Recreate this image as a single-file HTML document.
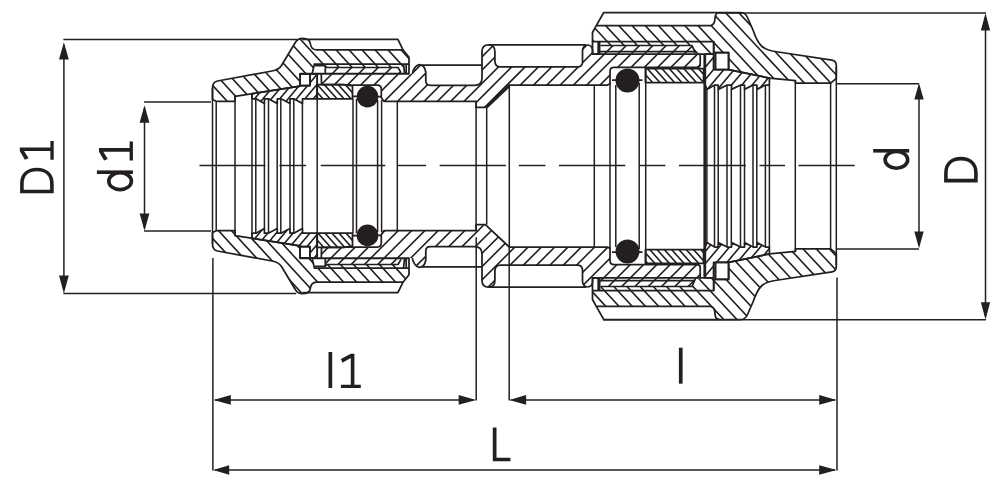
<!DOCTYPE html>
<html><head><meta charset="utf-8"><title>Coupling drawing</title>
<style>
html,body{margin:0;padding:0;background:#fff;}
body{width:1001px;height:487px;overflow:hidden;font-family:"Liberation Sans",sans-serif;}
svg{display:block;}
</style></head><body>
<svg width="1001" height="487" viewBox="0 0 1001 487">
<defs>
<clipPath id="c_nutL"><path d="M212.5 99.5 V88 Q212.5 82 217.5 81 L272 71 Q278.5 70 281.5 65.5 L295.6 42 Q298 38.4 302.5 38.3 Q309.3 38.4 310.2 43 Q311 49.8 316.5 49.8 H403 L409 57.2 V64 H403.5 V67.5 H326 V64 H314.4 L312.1 73.9 H300 V86.2 L235 96.3 V101.3 H216.2 Z"/></clipPath>
<clipPath id="cm_nutL"><path d="M212.5 99.5 V88 Q212.5 82 217.5 81 L272 71 Q278.5 70 281.5 65.5 L295.6 42 Q298 38.4 302.5 38.3 Q309.3 38.4 310.2 43 Q311 49.8 316.5 49.8 H403 L409 57.2 V64 H403.5 V67.5 H326 V64 H314.4 L312.1 73.9 H300 V86.2 L235 96.3 V101.3 H216.2 Z" transform="matrix(1 0 0 -1 0 332.0)"/></clipPath>
<clipPath id="c_clL"><path d="M252 98.8 V93.7 L300 86.2 V85.5 H310 V73.9 H317.2 V98.8 H302.5 V103.5 L293.8 98.8 H290 V103.5 L281 98.8 H277.3 V103.5 L268.3 98.8 H264.4 V103.5 L256 98.8 Z"/></clipPath>
<clipPath id="cm_clL"><path d="M252 98.8 V93.7 L300 86.2 V85.5 H310 V73.9 H317.2 V98.8 H302.5 V103.5 L293.8 98.8 H290 V103.5 L281 98.8 H277.3 V103.5 L268.3 98.8 H264.4 V103.5 L256 98.8 Z" transform="matrix(1 0 0 -1 0 332.0)"/></clipPath>
<clipPath id="c_buL"><path d="M317.2 84.6 H343 L352.5 86 V98.8 H317.2 Z"/></clipPath>
<clipPath id="cm_buL"><path d="M317.2 84.6 H343 L352.5 86 V98.8 H317.2 Z" transform="matrix(1 0 0 -1 0 332.0)"/></clipPath>
<clipPath id="c_body"><path d="M321.5 84.6 L321.3 73.9 H325.5 V67.5 H398 L401 72.6 V73.9 H412.3 Q414 66 419.2 64.7 Q424.5 64.7 425.8 72 V81 Q425.8 85.3 430.5 85.3 H474.5 Q482 85.3 482 78 V51.5 Q482 44.8 488.5 44.8 Q494.9 44.8 494.9 51.5 V61 Q494.9 66.9 500.5 66.9 H578 Q582.5 66.5 582.5 62 V50.5 Q583 45.2 587.5 45 Q592.3 45.2 592.6 50.5 V54.2 H600.5 V45.5 H692 L695.3 53.2 H700.2 V64.5 Q700.2 67.3 697 67.3 H645.6 H614 Q610 67.3 610 71.5 V83.5 L607.5 85 H509.3 L485.3 107.3 H476.1 V101.3 H383.8 L381.3 97.5 V89 Q381.3 85 377.3 85 H352.5 L343 84.6 Z"/></clipPath>
<clipPath id="cm_body"><path d="M321.5 84.6 L321.3 73.9 H325.5 V67.5 H398 L401 72.6 V73.9 H412.3 Q414 66 419.2 64.7 Q424.5 64.7 425.8 72 V81 Q425.8 85.3 430.5 85.3 H474.5 Q482 85.3 482 78 V51.5 Q482 44.8 488.5 44.8 Q494.9 44.8 494.9 51.5 V61 Q494.9 66.9 500.5 66.9 H578 Q582.5 66.5 582.5 62 V50.5 Q583 45.2 587.5 45 Q592.3 45.2 592.6 50.5 V54.2 H600.5 V45.5 H692 L695.3 53.2 H700.2 V64.5 Q700.2 67.3 697 67.3 H645.6 H614 Q610 67.3 610 71.5 V83.5 L607.5 85 H509.3 L485.3 107.3 H476.1 V101.3 H383.8 L381.3 97.5 V89 Q381.3 85 377.3 85 H352.5 L343 84.6 Z" transform="matrix(1 0 0 -1 0 332.0)"/></clipPath>
<clipPath id="c_buR"><path d="M645.6 68.6 H703.6 V82.5 H645.6 Z"/></clipPath>
<clipPath id="cm_buR"><path d="M645.6 68.6 H703.6 V82.5 H645.6 Z" transform="matrix(1 0 0 -1 0 332.0)"/></clipPath>
<clipPath id="c_clR"><path d="M705.3 54.2 H713.7 V69.6 H728.6 L769.4 78.1 V85.0 H765.6 L756.9 89.4 V85.0 H753.1 L744.5 89.4 V85.0 H740.6 L731.5 89.4 V85.0 H727.2 L718.2 89.4 V85.0 H714.6 L706.9 89.4 L705.3 85.0 Z"/></clipPath>
<clipPath id="cm_clR"><path d="M705.3 54.2 H713.7 V69.6 H728.6 L769.4 78.1 V85.0 H765.6 L756.9 89.4 V85.0 H753.1 L744.5 89.4 V85.0 H740.6 L731.5 89.4 V85.0 H727.2 L718.2 89.4 V85.0 H714.6 L706.9 89.4 L705.3 85.0 Z" transform="matrix(1 0 0 -1 0 332.0)"/></clipPath>
<clipPath id="c_nutR"><path d="M592.5 41.5 V32.5 L596.3 25.6 H710.6 Q715 24.5 715 18 Q715.3 12.6 719.5 12.5 H741 Q745.5 12.6 747.5 17.5 L753 30 Q757 42 762 46.5 Q767 50.5 775 51.5 L832 60.2 Q836.3 60.9 836.3 65.8 V78.3 L830.7 83.1 H795.5 V80.6 L769.4 78.1 L728.6 69.6 V52.6 H713.7 V53.2 H695.3 L692 45.5 H600.5 V41.5 Z"/></clipPath>
<clipPath id="cm_nutR"><path d="M592.5 41.5 V32.5 L596.3 25.6 H710.6 Q715 24.5 715 18 Q715.3 12.6 719.5 12.5 H741 Q745.5 12.6 747.5 17.5 L753 30 Q757 42 762 46.5 Q767 50.5 775 51.5 L832 60.2 Q836.3 60.9 836.3 65.8 V78.3 L830.7 83.1 H795.5 V80.6 L769.4 78.1 L728.6 69.6 V52.6 H713.7 V53.2 H695.3 L692 45.5 H600.5 V41.5 Z" transform="matrix(1 0 0 -1 0 332.0)"/></clipPath>

<g id="gD"><path d="M1.8 -1.8V-31.8H9.5C19.5 -31.8 23.8 -25 23.8 -16.8C23.8 -8.6 19.5 -1.8 9.5 -1.8Z" fill="none" stroke="#231f20" stroke-width="3.6" stroke-linejoin="miter"/></g>
<g id="g1"><path d="M0 0H19.9V-3.3H13.5V-34.2H9.9L0 -29L1.5 -25.3L9.9 -30V-3.3H0Z" fill="#231f20"/></g>
<g id="g1r"><path d="M0 0H18.8V-3.3H12.3V-33.9H8.7L0 -28.8L1.5 -25.1L8.7 -29.6V-3.3H0Z" fill="#231f20"/></g>
<g id="gd"><rect x="17.4" y="-36" width="3.6" height="36" fill="#231f20"/><ellipse cx="10.2" cy="-12.8" rx="8.4" ry="11.3" fill="none" stroke="#231f20" stroke-width="3.6"/></g>
<g id="gl"><rect x="0" y="-36" width="3.7" height="36" fill="#231f20"/></g>
<g id="gL"><path d="M1.85 -33.7V-1.8H17.6" fill="none" stroke="#231f20" stroke-width="3.7" stroke-linejoin="miter"/></g>

</defs>
<rect width="1001" height="487" fill="#fff"/>
<g id="drawing">
<g clip-path="url(#c_nutL)"><path d="M70.87 30.00L144.18 110.00M83.87 30.00L157.18 110.00M96.87 30.00L170.18 110.00M109.87 30.00L183.18 110.00M122.87 30.00L196.18 110.00M135.87 30.00L209.18 110.00M148.87 30.00L222.18 110.00M161.87 30.00L235.18 110.00M174.87 30.00L248.18 110.00M187.87 30.00L261.18 110.00M200.87 30.00L274.18 110.00M213.87 30.00L287.18 110.00M226.87 30.00L300.18 110.00M239.87 30.00L313.18 110.00M252.87 30.00L326.18 110.00M265.87 30.00L339.18 110.00M278.87 30.00L352.18 110.00M291.87 30.00L365.18 110.00M304.87 30.00L378.18 110.00M317.87 30.00L391.18 110.00M330.87 30.00L404.18 110.00M343.87 30.00L417.18 110.00M356.87 30.00L430.18 110.00M369.87 30.00L443.18 110.00M382.87 30.00L456.18 110.00M395.87 30.00L469.18 110.00M408.87 30.00L482.18 110.00M421.87 30.00L495.18 110.00M434.87 30.00L508.18 110.00M447.87 30.00L521.18 110.00M460.87 30.00L534.18 110.00M473.87 30.00L547.18 110.00" stroke="#231f20" stroke-width="1.6" fill="none"/></g>
<g clip-path="url(#cm_nutL)"><path d="M67.56 222.00L140.87 302.00M80.56 222.00L153.87 302.00M93.56 222.00L166.87 302.00M106.56 222.00L179.87 302.00M119.56 222.00L192.87 302.00M132.56 222.00L205.87 302.00M145.56 222.00L218.87 302.00M158.56 222.00L231.87 302.00M171.56 222.00L244.87 302.00M184.56 222.00L257.87 302.00M197.56 222.00L270.87 302.00M210.56 222.00L283.87 302.00M223.56 222.00L296.87 302.00M236.56 222.00L309.87 302.00M249.56 222.00L322.87 302.00M262.56 222.00L335.87 302.00M275.56 222.00L348.87 302.00M288.56 222.00L361.87 302.00M301.56 222.00L374.87 302.00M314.56 222.00L387.87 302.00M327.56 222.00L400.87 302.00M340.56 222.00L413.87 302.00M353.56 222.00L426.87 302.00M366.56 222.00L439.87 302.00M379.56 222.00L452.87 302.00M392.56 222.00L465.87 302.00M405.56 222.00L478.87 302.00M418.56 222.00L491.87 302.00M431.56 222.00L504.87 302.00M444.56 222.00L517.87 302.00M457.56 222.00L530.87 302.00M470.56 222.00L543.87 302.00" stroke="#231f20" stroke-width="1.6" fill="none"/></g>
<path d="M212.5 99.5 V88 Q212.5 82 217.5 81 L272 71 Q278.5 70 281.5 65.5 L295.6 42 Q298 38.4 302.5 38.3 Q309.3 38.4 310.2 43 Q311 49.8 316.5 49.8 H403 L409 57.2 V64 H314.4 L312.1 73.9 H300 V86.2 L235 96.3 V101.3 H216.2 Z" fill="none" stroke="#231f20" stroke-width="1.75" stroke-linejoin="round" />
<path d="M212.5 99.5 V88 Q212.5 82 217.5 81 L272 71 Q278.5 70 281.5 65.5 L295.6 42 Q298 38.4 302.5 38.3 Q309.3 38.4 310.2 43 Q311 49.8 316.5 49.8 H403 L409 57.2 V64 H314.4 L312.1 73.9 H300 V86.2 L235 96.3 V101.3 H216.2 Z" fill="none" stroke="#231f20" stroke-width="1.75" stroke-linejoin="round" transform="matrix(1 0 0 -1 0 332.0)" />
<path d="M302.5 39.3 H397.9 L403 49.8" fill="none" stroke="#231f20" stroke-width="1.75" stroke-linejoin="round" />
<path d="M302.5 39.3 H397.9 L403 49.8" fill="none" stroke="#231f20" stroke-width="1.75" stroke-linejoin="round" transform="matrix(1 0 0 -1 0 332.0)" />
<path d="M403.5 64 L404.6 73.6 M406.2 64 V73.6 M409 64 V74.2" fill="none" stroke="#231f20" stroke-width="1.75" stroke-linejoin="round" />
<path d="M403.5 64 L404.6 73.6 M406.2 64 V73.6 M409 64 V74.2" fill="none" stroke="#231f20" stroke-width="1.75" stroke-linejoin="round" transform="matrix(1 0 0 -1 0 332.0)" />
<path d="M300 73.9 H310 V85.5 H300 Z" fill="none" stroke="#231f20" stroke-width="1.75" stroke-linejoin="round" />
<path d="M300 73.9 H310 V85.5 H300 Z" fill="none" stroke="#231f20" stroke-width="1.75" stroke-linejoin="round" transform="matrix(1 0 0 -1 0 332.0)" />
<g clip-path="url(#c_clL)"><path d="M207.31 65.00L168.71 111.00M215.71 65.00L177.11 111.00M224.11 65.00L185.51 111.00M232.51 65.00L193.91 111.00M240.91 65.00L202.31 111.00M249.31 65.00L210.71 111.00M257.71 65.00L219.11 111.00M266.11 65.00L227.51 111.00M274.51 65.00L235.91 111.00M282.91 65.00L244.31 111.00M291.31 65.00L252.71 111.00M299.71 65.00L261.11 111.00M308.11 65.00L269.51 111.00M316.51 65.00L277.91 111.00M324.91 65.00L286.31 111.00M333.31 65.00L294.71 111.00M341.71 65.00L303.11 111.00M350.11 65.00L311.51 111.00M358.51 65.00L319.91 111.00M366.91 65.00L328.31 111.00M375.31 65.00L336.71 111.00M383.71 65.00L345.11 111.00M392.11 65.00L353.51 111.00M400.51 65.00L361.91 111.00" stroke="#231f20" stroke-width="1.6" fill="none"/></g>
<g clip-path="url(#cm_clL)"><path d="M210.81 221.00L172.21 267.00M219.21 221.00L180.61 267.00M227.61 221.00L189.01 267.00M236.01 221.00L197.41 267.00M244.41 221.00L205.81 267.00M252.81 221.00L214.21 267.00M261.21 221.00L222.61 267.00M269.61 221.00L231.01 267.00M278.01 221.00L239.41 267.00M286.41 221.00L247.81 267.00M294.81 221.00L256.21 267.00M303.21 221.00L264.61 267.00M311.61 221.00L273.01 267.00M320.01 221.00L281.41 267.00M328.41 221.00L289.81 267.00M336.81 221.00L298.21 267.00M345.21 221.00L306.61 267.00M353.61 221.00L315.01 267.00M362.01 221.00L323.41 267.00M370.41 221.00L331.81 267.00M378.81 221.00L340.21 267.00M387.21 221.00L348.61 267.00M395.61 221.00L357.01 267.00" stroke="#231f20" stroke-width="1.6" fill="none"/></g>
<path d="M252 98.8 V93.7 L300 86.2 V85.5 H310 V73.9 H317.2 V98.8 H302.5 V103.5 L293.8 98.8 H290 V103.5 L281 98.8 H277.3 V103.5 L268.3 98.8 H264.4 V103.5 L256 98.8 Z" fill="none" stroke="#231f20" stroke-width="1.75" stroke-linejoin="round" />
<path d="M252 98.8 V93.7 L300 86.2 V85.5 H310 V73.9 H317.2 V98.8 H302.5 V103.5 L293.8 98.8 H290 V103.5 L281 98.8 H277.3 V103.5 L268.3 98.8 H264.4 V103.5 L256 98.8 Z" fill="none" stroke="#231f20" stroke-width="1.75" stroke-linejoin="round" transform="matrix(1 0 0 -1 0 332.0)" />
<g clip-path="url(#c_buL)"><path d="M261.36 77.00L287.47 106.00M268.36 77.00L294.47 106.00M275.36 77.00L301.47 106.00M282.36 77.00L308.47 106.00M289.36 77.00L315.47 106.00M296.36 77.00L322.47 106.00M303.36 77.00L329.47 106.00M310.36 77.00L336.47 106.00M317.36 77.00L343.47 106.00M324.36 77.00L350.47 106.00M331.36 77.00L357.47 106.00M338.36 77.00L364.47 106.00M345.36 77.00L371.47 106.00M352.36 77.00L378.47 106.00M359.36 77.00L385.47 106.00M366.36 77.00L392.47 106.00M373.36 77.00L399.47 106.00M380.36 77.00L406.47 106.00M387.36 77.00L413.47 106.00" stroke="#231f20" stroke-width="1.6" fill="none"/></g>
<g clip-path="url(#cm_buL)"><path d="M262.52 226.00L288.63 255.00M269.52 226.00L295.63 255.00M276.52 226.00L302.63 255.00M283.52 226.00L309.63 255.00M290.52 226.00L316.63 255.00M297.52 226.00L323.63 255.00M304.52 226.00L330.63 255.00M311.52 226.00L337.63 255.00M318.52 226.00L344.63 255.00M325.52 226.00L351.63 255.00M332.52 226.00L358.63 255.00M339.52 226.00L365.63 255.00M346.52 226.00L372.63 255.00M353.52 226.00L379.63 255.00M360.52 226.00L386.63 255.00M367.52 226.00L393.63 255.00M374.52 226.00L400.63 255.00M381.52 226.00L407.63 255.00" stroke="#231f20" stroke-width="1.6" fill="none"/></g>
<path d="M317.2 84.6 H343 L352.5 86 V98.8 H317.2 Z" fill="none" stroke="#231f20" stroke-width="1.75" stroke-linejoin="round" />
<path d="M317.2 84.6 H343 L352.5 86 V98.8 H317.2 Z" fill="none" stroke="#231f20" stroke-width="1.75" stroke-linejoin="round" transform="matrix(1 0 0 -1 0 332.0)" />
<g clip-path="url(#c_body)"><path d="M251.10 35.00L171.10 115.00M264.40 35.00L184.40 115.00M277.70 35.00L197.70 115.00M291.00 35.00L211.00 115.00M304.30 35.00L224.30 115.00M317.60 35.00L237.60 115.00M330.90 35.00L250.90 115.00M344.20 35.00L264.20 115.00M357.50 35.00L277.50 115.00M370.80 35.00L290.80 115.00M384.10 35.00L304.10 115.00M397.40 35.00L317.40 115.00M410.70 35.00L330.70 115.00M424.00 35.00L344.00 115.00M437.30 35.00L357.30 115.00M450.60 35.00L370.60 115.00M463.90 35.00L383.90 115.00M477.20 35.00L397.20 115.00M490.50 35.00L410.50 115.00M503.80 35.00L423.80 115.00M517.10 35.00L437.10 115.00M530.40 35.00L450.40 115.00M543.70 35.00L463.70 115.00M557.00 35.00L477.00 115.00M570.30 35.00L490.30 115.00M583.60 35.00L503.60 115.00M596.90 35.00L516.90 115.00M610.20 35.00L530.20 115.00M623.50 35.00L543.50 115.00M636.80 35.00L556.80 115.00M650.10 35.00L570.10 115.00M663.40 35.00L583.40 115.00M676.70 35.00L596.70 115.00M690.00 35.00L610.00 115.00M703.30 35.00L623.30 115.00M716.60 35.00L636.60 115.00M729.90 35.00L649.90 115.00M743.20 35.00L663.20 115.00M756.50 35.00L676.50 115.00M769.80 35.00L689.80 115.00M783.10 35.00L703.10 115.00M796.40 35.00L716.40 115.00M809.70 35.00L729.70 115.00M823.00 35.00L743.00 115.00M836.30 35.00L756.30 115.00M849.60 35.00L769.60 115.00" stroke="#231f20" stroke-width="1.6" fill="none"/></g>
<g clip-path="url(#cm_body)"><path d="M252.30 217.00L172.30 297.00M265.60 217.00L185.60 297.00M278.90 217.00L198.90 297.00M292.20 217.00L212.20 297.00M305.50 217.00L225.50 297.00M318.80 217.00L238.80 297.00M332.10 217.00L252.10 297.00M345.40 217.00L265.40 297.00M358.70 217.00L278.70 297.00M372.00 217.00L292.00 297.00M385.30 217.00L305.30 297.00M398.60 217.00L318.60 297.00M411.90 217.00L331.90 297.00M425.20 217.00L345.20 297.00M438.50 217.00L358.50 297.00M451.80 217.00L371.80 297.00M465.10 217.00L385.10 297.00M478.40 217.00L398.40 297.00M491.70 217.00L411.70 297.00M505.00 217.00L425.00 297.00M518.30 217.00L438.30 297.00M531.60 217.00L451.60 297.00M544.90 217.00L464.90 297.00M558.20 217.00L478.20 297.00M571.50 217.00L491.50 297.00M584.80 217.00L504.80 297.00M598.10 217.00L518.10 297.00M611.40 217.00L531.40 297.00M624.70 217.00L544.70 297.00M638.00 217.00L558.00 297.00M651.30 217.00L571.30 297.00M664.60 217.00L584.60 297.00M677.90 217.00L597.90 297.00M691.20 217.00L611.20 297.00M704.50 217.00L624.50 297.00M717.80 217.00L637.80 297.00M731.10 217.00L651.10 297.00M744.40 217.00L664.40 297.00M757.70 217.00L677.70 297.00M771.00 217.00L691.00 297.00M784.30 217.00L704.30 297.00M797.60 217.00L717.60 297.00M810.90 217.00L730.90 297.00M824.20 217.00L744.20 297.00M837.50 217.00L757.50 297.00M850.80 217.00L770.80 297.00" stroke="#231f20" stroke-width="1.6" fill="none"/></g>
<path d="M321.5 84.6 L321.3 73.9 M412.3 73.9 Q414 66 419.2 64.7 Q424.5 64.7 425.8 72 V81 Q425.8 85.3 430.5 85.3 H474.5 Q482 85.3 482 78 V51.5 Q482 44.8 488.5 44.8 Q494.9 44.8 494.9 51.5 V61 Q494.9 66.9 500.5 66.9 H578 Q582.5 66.5 582.5 62 V50.5 Q583 45.2 587.5 45 Q592.3 45.2 592.6 50.5 V54.2 M700.2 54.2 V64.5 Q700.2 67.3 697 67.3 H614 Q610 67.3 610 71.5 V83.5 L607.5 85 H509.3 L485.3 107.3 H476.1 V101.3 H383.8 L381.3 97.5 V89 Q381.3 85 377.3 85 H352.5 L343 84.6 H321.5" fill="none" stroke="#231f20" stroke-width="1.75" stroke-linejoin="round" />
<path d="M321.5 84.6 L321.3 73.9 M412.3 73.9 Q414 66 419.2 64.7 Q424.5 64.7 425.8 72 V81 Q425.8 85.3 430.5 85.3 H474.5 Q482 85.3 482 78 V51.5 Q482 44.8 488.5 44.8 Q494.9 44.8 494.9 51.5 V61 Q494.9 66.9 500.5 66.9 H578 Q582.5 66.5 582.5 62 V50.5 Q583 45.2 587.5 45 Q592.3 45.2 592.6 50.5 V54.2 M700.2 54.2 V64.5 Q700.2 67.3 697 67.3 H614 Q610 67.3 610 71.5 V83.5 L607.5 85 H509.3 L485.3 107.3 H476.1 V101.3 H383.8 L381.3 97.5 V89 Q381.3 85 377.3 85 H352.5 L343 84.6 H321.5" fill="none" stroke="#231f20" stroke-width="1.75" stroke-linejoin="round" transform="matrix(1 0 0 -1 0 332.0)" />
<path d="M486.9 107.5L509.6 86.3" stroke="#231f20" stroke-width="1.75" fill="none"/>
<path d="M315 65.6 H325 L327 67.5 H398 L401 72.6" fill="none" stroke="#231f20" stroke-width="1.7" stroke-linejoin="round" />
<path d="M315 65.6 H325 L327 67.5 H398 L401 72.6" fill="none" stroke="#231f20" stroke-width="1.7" stroke-linejoin="round" transform="matrix(1 0 0 -1 0 332.0)" />
<path d="M325.3 66 V73" fill="none" stroke="#231f20" stroke-width="1.75" stroke-linejoin="round" />
<path d="M325.3 66 V73" fill="none" stroke="#231f20" stroke-width="1.75" stroke-linejoin="round" transform="matrix(1 0 0 -1 0 332.0)" />
<path d="M300 73.7 H409" fill="none" stroke="#231f20" stroke-width="1.9" stroke-linejoin="round" />
<path d="M300 73.7 H409" fill="none" stroke="#231f20" stroke-width="1.9" stroke-linejoin="round" transform="matrix(1 0 0 -1 0 332.0)" />
<path d="M600.5 45.5 H692 L695.3 53.2" fill="none" stroke="#231f20" stroke-width="1.7" stroke-linejoin="round" />
<path d="M600.5 45.5 H692 L695.3 53.2" fill="none" stroke="#231f20" stroke-width="1.7" stroke-linejoin="round" transform="matrix(1 0 0 -1 0 332.0)" />
<path d="M599.6 42 V54 M600.5 51.5 H694.5" fill="none" stroke="#231f20" stroke-width="1.75" stroke-linejoin="round" />
<path d="M599.6 42 V54 M600.5 51.5 H694.5" fill="none" stroke="#231f20" stroke-width="1.75" stroke-linejoin="round" transform="matrix(1 0 0 -1 0 332.0)" />
<path d="M593 54.1 H713.7" fill="none" stroke="#231f20" stroke-width="1.7" stroke-linejoin="round" />
<path d="M593 54.1 H713.7" fill="none" stroke="#231f20" stroke-width="1.7" stroke-linejoin="round" transform="matrix(1 0 0 -1 0 332.0)" />
<path d="M422 65.2 H482" fill="none" stroke="#231f20" stroke-width="1.75" stroke-linejoin="round" />
<path d="M422 65.2 H482" fill="none" stroke="#231f20" stroke-width="1.75" stroke-linejoin="round" transform="matrix(1 0 0 -1 0 332.0)" />
<path d="M489 44.9 H586" fill="none" stroke="#231f20" stroke-width="1.75" stroke-linejoin="round" />
<path d="M489 44.9 H586" fill="none" stroke="#231f20" stroke-width="1.75" stroke-linejoin="round" transform="matrix(1 0 0 -1 0 332.0)" />
<circle cx="367.5" cy="96.6" r="10.8" fill="#231f20"/>
<circle cx="367.5" cy="235.4" r="10.8" fill="#231f20"/>
<circle cx="627.5" cy="80.6" r="12" fill="#231f20"/>
<circle cx="627.5" cy="251.4" r="12" fill="#231f20"/>
<path d="M352.5 96.3 H357 M378 96.6 H381.3" fill="none" stroke="#231f20" stroke-width="1.75" stroke-linejoin="round" />
<path d="M352.5 96.3 H357 M378 96.6 H381.3" fill="none" stroke="#231f20" stroke-width="1.75" stroke-linejoin="round" transform="matrix(1 0 0 -1 0 332.0)" />
<path d="M612 80 H616 M639 80 H642.5" fill="none" stroke="#231f20" stroke-width="1.75" stroke-linejoin="round" />
<path d="M612 80 H616 M639 80 H642.5" fill="none" stroke="#231f20" stroke-width="1.75" stroke-linejoin="round" transform="matrix(1 0 0 -1 0 332.0)" />
<path d="M645.6 67.3 V82.5 M610 83.5 V85" fill="none" stroke="#231f20" stroke-width="1.75" stroke-linejoin="round" />
<path d="M645.6 67.3 V82.5 M610 83.5 V85" fill="none" stroke="#231f20" stroke-width="1.75" stroke-linejoin="round" transform="matrix(1 0 0 -1 0 332.0)" />
<g clip-path="url(#c_buR)"><path d="M589.42 61.00L615.53 90.00M596.72 61.00L622.83 90.00M604.02 61.00L630.13 90.00M611.32 61.00L637.43 90.00M618.62 61.00L644.73 90.00M625.92 61.00L652.03 90.00M633.22 61.00L659.33 90.00M640.52 61.00L666.63 90.00M647.82 61.00L673.93 90.00M655.12 61.00L681.23 90.00M662.42 61.00L688.53 90.00M669.72 61.00L695.83 90.00M677.02 61.00L703.13 90.00M684.32 61.00L710.43 90.00M691.62 61.00L717.73 90.00M698.92 61.00L725.03 90.00M706.22 61.00L732.33 90.00M713.52 61.00L739.63 90.00M720.82 61.00L746.93 90.00M728.12 61.00L754.23 90.00M735.42 61.00L761.53 90.00" stroke="#231f20" stroke-width="1.6" fill="none"/></g>
<g clip-path="url(#cm_buR)"><path d="M584.50 242.00L610.61 271.00M591.80 242.00L617.91 271.00M599.10 242.00L625.21 271.00M606.40 242.00L632.51 271.00M613.70 242.00L639.81 271.00M621.00 242.00L647.11 271.00M628.30 242.00L654.41 271.00M635.60 242.00L661.71 271.00M642.90 242.00L669.01 271.00M650.20 242.00L676.31 271.00M657.50 242.00L683.61 271.00M664.80 242.00L690.91 271.00M672.10 242.00L698.21 271.00M679.40 242.00L705.51 271.00M686.70 242.00L712.81 271.00M694.00 242.00L720.11 271.00M701.30 242.00L727.41 271.00M708.60 242.00L734.71 271.00M715.90 242.00L742.01 271.00M723.20 242.00L749.31 271.00M730.50 242.00L756.61 271.00M737.80 242.00L763.91 271.00" stroke="#231f20" stroke-width="1.6" fill="none"/></g>
<path d="M645.6 68.6 H703.6 V82.5 H645.6 Z" fill="none" stroke="#231f20" stroke-width="1.75" stroke-linejoin="round" />
<path d="M645.6 68.6 H703.6 V82.5 H645.6 Z" fill="none" stroke="#231f20" stroke-width="1.75" stroke-linejoin="round" transform="matrix(1 0 0 -1 0 332.0)" />
<g clip-path="url(#c_clR)"><path d="M660.44 47.00L618.48 97.00M670.74 47.00L628.78 97.00M681.04 47.00L639.08 97.00M691.34 47.00L649.38 97.00M701.64 47.00L659.68 97.00M711.94 47.00L669.98 97.00M722.24 47.00L680.28 97.00M732.54 47.00L690.58 97.00M742.84 47.00L700.88 97.00M753.14 47.00L711.18 97.00M763.44 47.00L721.48 97.00M773.74 47.00L731.78 97.00M784.04 47.00L742.08 97.00M794.34 47.00L752.38 97.00M804.64 47.00L762.68 97.00M814.94 47.00L772.98 97.00M825.24 47.00L783.28 97.00M835.54 47.00L793.58 97.00M845.84 47.00L803.88 97.00M856.14 47.00L814.18 97.00" stroke="#231f20" stroke-width="1.6" fill="none"/></g>
<g clip-path="url(#cm_clR)"><path d="M657.19 235.00L615.23 285.00M667.49 235.00L625.53 285.00M677.79 235.00L635.83 285.00M688.09 235.00L646.13 285.00M698.39 235.00L656.43 285.00M708.69 235.00L666.73 285.00M718.99 235.00L677.03 285.00M729.29 235.00L687.33 285.00M739.59 235.00L697.63 285.00M749.89 235.00L707.93 285.00M760.19 235.00L718.23 285.00M770.49 235.00L728.53 285.00M780.79 235.00L738.83 285.00M791.09 235.00L749.13 285.00M801.39 235.00L759.43 285.00M811.69 235.00L769.73 285.00M821.99 235.00L780.03 285.00M832.29 235.00L790.33 285.00M842.59 235.00L800.63 285.00M852.89 235.00L810.93 285.00" stroke="#231f20" stroke-width="1.6" fill="none"/></g>
<path d="M705.3 54.2 H713.7 V69.6 H728.6 L769.4 78.1 V85.0 H765.6 L756.9 89.4 V85.0 H753.1 L744.5 89.4 V85.0 H740.6 L731.5 89.4 V85.0 H727.2 L718.2 89.4 V85.0 H714.6 L706.9 89.4 L705.3 85.0 Z" fill="none" stroke="#231f20" stroke-width="1.75" stroke-linejoin="round" />
<path d="M705.3 54.2 H713.7 V69.6 H728.6 L769.4 78.1 V85.0 H765.6 L756.9 89.4 V85.0 H753.1 L744.5 89.4 V85.0 H740.6 L731.5 89.4 V85.0 H727.2 L718.2 89.4 V85.0 H714.6 L706.9 89.4 L705.3 85.0 Z" fill="none" stroke="#231f20" stroke-width="1.75" stroke-linejoin="round" transform="matrix(1 0 0 -1 0 332.0)" />
<g clip-path="url(#c_nutR)"><path d="M441.19 5.00L521.39 91.00M454.39 5.00L534.59 91.00M467.59 5.00L547.79 91.00M480.79 5.00L560.99 91.00M493.99 5.00L574.19 91.00M507.19 5.00L587.39 91.00M520.39 5.00L600.59 91.00M533.59 5.00L613.79 91.00M546.79 5.00L626.99 91.00M559.99 5.00L640.19 91.00M573.19 5.00L653.39 91.00M586.39 5.00L666.59 91.00M599.59 5.00L679.79 91.00M612.79 5.00L692.99 91.00M625.99 5.00L706.19 91.00M639.19 5.00L719.39 91.00M652.39 5.00L732.59 91.00M665.59 5.00L745.79 91.00M678.79 5.00L758.99 91.00M691.99 5.00L772.19 91.00M705.19 5.00L785.39 91.00M718.39 5.00L798.59 91.00M731.59 5.00L811.79 91.00M744.79 5.00L824.99 91.00M757.99 5.00L838.19 91.00M771.19 5.00L851.39 91.00M784.39 5.00L864.59 91.00M797.59 5.00L877.79 91.00M810.79 5.00L890.99 91.00M823.99 5.00L904.19 91.00M837.19 5.00L917.39 91.00M850.39 5.00L930.59 91.00M863.59 5.00L943.79 91.00M876.79 5.00L956.99 91.00M889.99 5.00L970.19 91.00M903.19 5.00L983.39 91.00" stroke="#231f20" stroke-width="1.6" fill="none"/></g>
<g clip-path="url(#cm_nutR)"><path d="M439.33 241.00L519.53 327.00M452.53 241.00L532.73 327.00M465.73 241.00L545.93 327.00M478.93 241.00L559.13 327.00M492.13 241.00L572.33 327.00M505.33 241.00L585.53 327.00M518.53 241.00L598.73 327.00M531.73 241.00L611.93 327.00M544.93 241.00L625.13 327.00M558.13 241.00L638.33 327.00M571.33 241.00L651.53 327.00M584.53 241.00L664.73 327.00M597.73 241.00L677.93 327.00M610.93 241.00L691.13 327.00M624.13 241.00L704.33 327.00M637.33 241.00L717.53 327.00M650.53 241.00L730.73 327.00M663.73 241.00L743.93 327.00M676.93 241.00L757.13 327.00M690.13 241.00L770.33 327.00M703.33 241.00L783.53 327.00M716.53 241.00L796.73 327.00M729.73 241.00L809.93 327.00M742.93 241.00L823.13 327.00M756.13 241.00L836.33 327.00M769.33 241.00L849.53 327.00M782.53 241.00L862.73 327.00M795.73 241.00L875.93 327.00M808.93 241.00L889.13 327.00M822.13 241.00L902.33 327.00M835.33 241.00L915.53 327.00M848.53 241.00L928.73 327.00M861.73 241.00L941.93 327.00M874.93 241.00L955.13 327.00M888.13 241.00L968.33 327.00M901.33 241.00L981.53 327.00" stroke="#231f20" stroke-width="1.6" fill="none"/></g>
<path d="M592.5 41.5 V32.5 L596.3 25.6 H710.6 Q715 24.5 715 18 Q715.3 12.6 719.5 12.5 H741 Q745.5 12.6 747.5 17.5 L753 30 Q757 42 762 46.5 Q767 50.5 775 51.5 L832 60.2 Q836.3 60.9 836.3 65.8 V78.3 L830.7 83.1 H795.5 V80.6 L769.4 78.1 L728.6 69.6 V52.6 H713.7 V41.5 Z" fill="none" stroke="#231f20" stroke-width="1.75" stroke-linejoin="round" />
<path d="M592.5 41.5 V32.5 L596.3 25.6 H710.6 Q715 24.5 715 18 Q715.3 12.6 719.5 12.5 H741 Q745.5 12.6 747.5 17.5 L753 30 Q757 42 762 46.5 Q767 50.5 775 51.5 L832 60.2 Q836.3 60.9 836.3 65.8 V78.3 L830.7 83.1 H795.5 V80.6 L769.4 78.1 L728.6 69.6 V52.6 H713.7 V41.5 Z" fill="none" stroke="#231f20" stroke-width="1.75" stroke-linejoin="round" transform="matrix(1 0 0 -1 0 332.0)" />
<path d="M592.5 41.5 V54.2 H598.2 V41.5 M596.3 25.6 L603.75 12.5 H719.5" fill="none" stroke="#231f20" stroke-width="1.75" stroke-linejoin="round" />
<path d="M592.5 41.5 V54.2 H598.2 V41.5 M596.3 25.6 L603.75 12.5 H719.5" fill="none" stroke="#231f20" stroke-width="1.75" stroke-linejoin="round" transform="matrix(1 0 0 -1 0 332.0)" />
<path d="M713.7 41.5 V69.6" fill="none" stroke="#231f20" stroke-width="1.75" stroke-linejoin="round" />
<path d="M713.7 41.5 V69.6" fill="none" stroke="#231f20" stroke-width="1.75" stroke-linejoin="round" transform="matrix(1 0 0 -1 0 332.0)" />
<path d="M715.6 52.6 H728.6 V69.6 H715.6 Z" fill="none" stroke="#231f20" stroke-width="1.75" stroke-linejoin="round" />
<path d="M715.6 52.6 H728.6 V69.6 H715.6 Z" fill="none" stroke="#231f20" stroke-width="1.75" stroke-linejoin="round" transform="matrix(1 0 0 -1 0 332.0)" />
<path d="M216.2 101.3V230.7" stroke="#231f20" stroke-width="1.5" fill="none"/>
<path d="M235 96.3V235.7" stroke="#231f20" stroke-width="1.5" fill="none"/>
<path d="M252 94V238.0" stroke="#231f20" stroke-width="1.5" fill="none"/>
<path d="M255.8 98.8V233.2" stroke="#231f20" stroke-width="1.5" fill="none"/>
<path d="M264.4 103.5V228.5" stroke="#231f20" stroke-width="1.5" fill="none"/>
<path d="M268.5 98.8V233.2" stroke="#231f20" stroke-width="1.5" fill="none"/>
<path d="M277.2 103.5V228.5" stroke="#231f20" stroke-width="1.5" fill="none"/>
<path d="M280.8 98.8V233.2" stroke="#231f20" stroke-width="1.5" fill="none"/>
<path d="M290 103.5V228.5" stroke="#231f20" stroke-width="1.5" fill="none"/>
<path d="M293.8 98.8V233.2" stroke="#231f20" stroke-width="1.5" fill="none"/>
<path d="M302.4 103.5V228.5" stroke="#231f20" stroke-width="1.5" fill="none"/>
<path d="M317.2 73.9V258.1" stroke="#231f20" stroke-width="1.5" fill="none"/>
<path d="M353 98.8V233.2" stroke="#231f20" stroke-width="1.5" fill="none"/>
<path d="M356.5 98.8V233.2" stroke="#231f20" stroke-width="1.5" fill="none"/>
<path d="M377.6 100V232.0" stroke="#231f20" stroke-width="1.5" fill="none"/>
<path d="M381.6 100V232.0" stroke="#231f20" stroke-width="1.5" fill="none"/>
<path d="M397.3 101V231.0" stroke="#231f20" stroke-width="1.5" fill="none"/>
<path d="M476.1 101.3V230.7" stroke="#231f20" stroke-width="1.5" fill="none"/>
<path d="M486.7 107.3V224.7" stroke="#231f20" stroke-width="1.5" fill="none"/>
<path d="M509.3 85.5V246.5" stroke="#231f20" stroke-width="1.5" fill="none"/>
<path d="M594.3 85V247.0" stroke="#231f20" stroke-width="1.5" fill="none"/>
<path d="M610 85V247.0" stroke="#231f20" stroke-width="1.5" fill="none"/>
<path d="M615.8 85V247.0" stroke="#231f20" stroke-width="1.5" fill="none"/>
<path d="M639.2 83V249.0" stroke="#231f20" stroke-width="1.5" fill="none"/>
<path d="M645.7 82.5V249.5" stroke="#231f20" stroke-width="1.5" fill="none"/>
<path d="M706.9 89.4V242.6" stroke="#231f20" stroke-width="1.5" fill="none"/>
<path d="M714.5 85.0V247.0" stroke="#231f20" stroke-width="1.5" fill="none"/>
<path d="M718.2 89.4V242.6" stroke="#231f20" stroke-width="1.5" fill="none"/>
<path d="M727 85.0V247.0" stroke="#231f20" stroke-width="1.5" fill="none"/>
<path d="M731.3 89.4V242.6" stroke="#231f20" stroke-width="1.5" fill="none"/>
<path d="M740.5 85.0V247.0" stroke="#231f20" stroke-width="1.5" fill="none"/>
<path d="M744.5 89.4V242.6" stroke="#231f20" stroke-width="1.5" fill="none"/>
<path d="M753 85.0V247.0" stroke="#231f20" stroke-width="1.5" fill="none"/>
<path d="M756.8 89.4V242.6" stroke="#231f20" stroke-width="1.5" fill="none"/>
<path d="M765.4 85.0V247.0" stroke="#231f20" stroke-width="1.5" fill="none"/>
<path d="M769.4 85.0V247.0" stroke="#231f20" stroke-width="1.5" fill="none"/>
<path d="M795.3 80.6V251.4" stroke="#231f20" stroke-width="1.5" fill="none"/>
<path d="M830.6 83.1V248.9" stroke="#231f20" stroke-width="1.5" fill="none"/>
<path d="M212.5 88V244.0" stroke="#231f20" stroke-width="1.5" fill="none"/>
<path d="M836.3 67V265.0" stroke="#231f20" stroke-width="1.5" fill="none"/>
<path d="M704.7 54.2V277.8" stroke="#231f20" stroke-width="2.6" fill="none"/>
<path d="M199.5 165.5L265.4 165.5" stroke="#231f20" stroke-width="1.45" fill="none"/>
<path d="M279.4 165.5L306.2 165.5" stroke="#231f20" stroke-width="1.45" fill="none"/>
<path d="M320.8 165.5L385.3 165.5" stroke="#231f20" stroke-width="1.45" fill="none"/>
<path d="M397.9 165.5L426.1 165.5" stroke="#231f20" stroke-width="1.45" fill="none"/>
<path d="M439.7 165.5L505.9 165.5" stroke="#231f20" stroke-width="1.45" fill="none"/>
<path d="M518.8 165.5L545.5 165.5" stroke="#231f20" stroke-width="1.45" fill="none"/>
<path d="M559 165.5L625.3 165.5" stroke="#231f20" stroke-width="1.45" fill="none"/>
<path d="M638.9 165.5L665.4 165.5" stroke="#231f20" stroke-width="1.45" fill="none"/>
<path d="M679 165.5L745.9 165.5" stroke="#231f20" stroke-width="1.45" fill="none"/>
<path d="M759.5 165.5L785 165.5" stroke="#231f20" stroke-width="1.45" fill="none"/>
<path d="M798.5 165.5L854.6 165.5" stroke="#231f20" stroke-width="1.45" fill="none"/>
</g>
<g id="dims">
<path d="M63.4 39.6L297.5 39.6" stroke="#231f20" stroke-width="1.5" fill="none"/>
<path d="M63.4 293.6L296.3 293.6" stroke="#231f20" stroke-width="1.5" fill="none"/>
<path d="M63.9 45L63.9 290" stroke="#231f20" stroke-width="1.5" fill="none"/>
<path d="M63.9 42.3L68.80 59.40L59.00 59.40Z" fill="#231f20"/>
<path d="M63.9 293.4L59.00 275.60L68.80 275.60Z" fill="#231f20"/>
<path d="M144.1 102.0L211 102.0" stroke="#231f20" stroke-width="1.5" fill="none"/>
<path d="M144.1 231.0L211 231.0" stroke="#231f20" stroke-width="1.5" fill="none"/>
<path d="M144.5 108L144.5 228" stroke="#231f20" stroke-width="1.5" fill="none"/>
<path d="M144.5 105.2L149.40 122.70L139.60 122.70Z" fill="#231f20"/>
<path d="M144.5 230.8L139.60 213.50L149.40 213.50Z" fill="#231f20"/>
<path d="M836.3 83.8L918.9 83.8" stroke="#231f20" stroke-width="1.5" fill="none"/>
<path d="M836.3 249.1L918.9 249.1" stroke="#231f20" stroke-width="1.5" fill="none"/>
<path d="M919 88L919 245" stroke="#231f20" stroke-width="1.5" fill="none"/>
<path d="M919 83.0L923.65 99.60L914.35 99.60Z" fill="#231f20"/>
<path d="M919 248.6L914.35 231.60L923.65 231.60Z" fill="#231f20"/>
<path d="M719 12.9L986 12.9" stroke="#231f20" stroke-width="1.5" fill="none"/>
<path d="M603 319.8L985.9 319.8" stroke="#231f20" stroke-width="1.5" fill="none"/>
<path d="M985.5 17L985.5 316" stroke="#231f20" stroke-width="1.5" fill="none"/>
<path d="M985.5 13.3L990.15 30.60L980.85 30.60Z" fill="#231f20"/>
<path d="M985.5 319.5L980.85 302.30L990.15 302.30Z" fill="#231f20"/>
<path d="M212.9 258L212.9 470.6" stroke="#231f20" stroke-width="1.5" fill="none"/>
<path d="M476.2 237.2L476.2 400.5" stroke="#231f20" stroke-width="1.5" fill="none"/>
<path d="M215 399.9L474 399.9" stroke="#231f20" stroke-width="1.5" fill="none"/>
<path d="M213.6 399.9L230.80 395.10L230.80 404.70Z" fill="#231f20"/>
<path d="M476 399.9L458.60 404.70L458.60 395.10Z" fill="#231f20"/>
<path d="M509.2 246.5L509.2 400.5" stroke="#231f20" stroke-width="1.5" fill="none"/>
<path d="M837.0 277.5L837.0 470.6" stroke="#231f20" stroke-width="1.5" fill="none"/>
<path d="M511 399.9L835 399.9" stroke="#231f20" stroke-width="1.5" fill="none"/>
<path d="M509.3 399.9L526.10 395.10L526.10 404.70Z" fill="#231f20"/>
<path d="M836.6 399.9L819.20 404.70L819.20 395.10Z" fill="#231f20"/>
<path d="M215 470L835 470" stroke="#231f20" stroke-width="1.5" fill="none"/>
<path d="M213.0 470L229.20 465.20L229.20 474.80Z" fill="#231f20"/>
<path d="M836.6 470L819.20 474.80L819.20 465.20Z" fill="#231f20"/>
</g>
<g id="labels">
<use href="#gD" transform="translate(53.7 193.3) rotate(-90)"/>
<use href="#g1r" transform="translate(53.7 193.3) rotate(-90) translate(33.5 0)"/>
<use href="#gd" transform="translate(132.9 191.4) rotate(-90)"/>
<use href="#g1r" transform="translate(132.9 191.4) rotate(-90) translate(31.0 0)"/>
<use href="#gd" transform="translate(909.2 170) rotate(-90)"/>
<use href="#gD" transform="translate(977.7 182.4) rotate(-90)"/>
<use href="#gl" transform="translate(328.5 388)"/>
<use href="#g1" transform="translate(340.9 388)"/>
<use href="#gl" transform="translate(678.9 383.7)"/>
<use href="#gL" transform="translate(492.8 461.3)"/>
</g>
</svg>
</body></html>
